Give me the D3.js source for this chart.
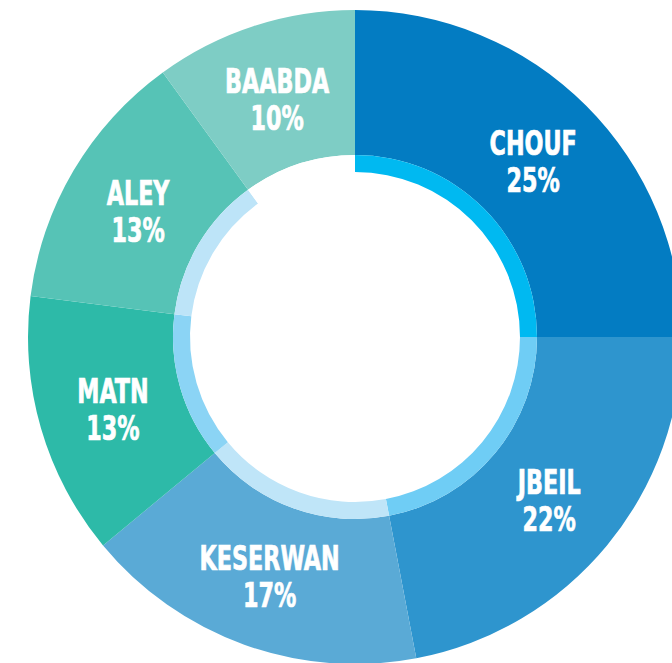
<!DOCTYPE html>
<html>
<head>
  <meta charset="utf-8">
  <title>Distribution by district</title>
  <script src="https://cdnjs.cloudflare.com/ajax/libs/d3/7.8.5/d3.min.js"></script>
  <style>
    body { margin: 0; background: #fff; overflow: hidden; }
    .lbl { font-family: "DejaVu Sans Condensed", "DejaVu Sans", sans-serif;
           font-weight: bold; font-size: 33px; fill: #fff;
           stroke: #fff; stroke-width: 0.7px; }
  </style>
</head>
<body>
<div id="chart"></div>
<script>
// data
var districts = ["CHOUF", "JBEIL", "KESERWAN", "MATN", "ALEY", "BAABDA"];
var shares = [25, 22, 17, 13, 13, 10];
var outerColors = ["#037cc2", "#2e95ce", "#5aaad6", "#2dbaa8", "#56c3b6", "#7ecdc5"];
var ringColors = ["#00b9f1", "#6fcdf5", "#bfe5f8", "#8bd4f5", "#bde4f8", "#ffffff"];

var width = 672, height = 663;
var cx = 355, cy = 337;

var svg = d3.select("#chart").append("svg")
    .attr("width", width)
    .attr("height", height)
  .append("g")
    .attr("transform", "translate(" + cx + "," + cy + ")");

var pie = d3.pie().sort(null).value(d => d);
var arcs = pie(shares);

var outerArc = d3.arc().innerRadius(182).outerRadius(327);
var ringArc = d3.arc().innerRadius(165).outerRadius(182);
var labelArc = d3.arc().innerRadius(252).outerRadius(252);

svg.selectAll("path.slice")
  .data(arcs)
  .enter()
  .append("path")
    .attr("class", "slice")
    .attr("d", outerArc)
    .attr("fill", (d, i) => outerColors[i]);

svg.selectAll("path.ring")
  .data(arcs)
  .enter()
  .append("path")
    .attr("class", "ring")
    .attr("d", ringArc)
    .attr("fill", (d, i) => ringColors[i]);

// condensed look: squeeze the text horizontally
var labels = svg.selectAll("text.lbl")
  .data(arcs)
  .enter()
  .append("text")
    .attr("class", "lbl")
    .attr("text-anchor", "middle")
    .attr("transform", d => "translate(" + labelArc.centroid(d) + ") scale(0.75,1)");

labels.append("tspan")
    .attr("x", 0)
    .attr("y", -4)
    .text((d, i) => districts[i]);
labels.append("tspan")
    .attr("x", 0)
    .attr("y", 33)
    .text(d => d.data + "%");
</script>
</body>
</html>
